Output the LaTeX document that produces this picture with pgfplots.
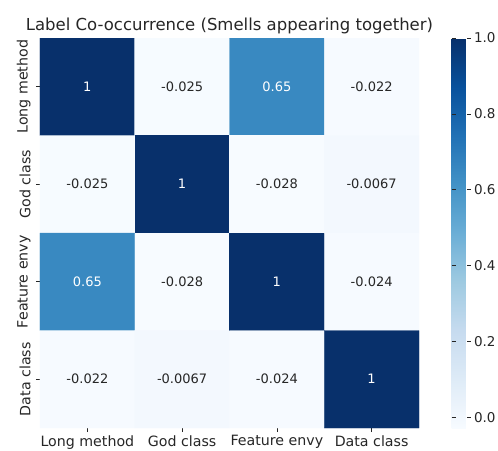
\documentclass[border=0pt]{standalone}
\usepackage{pgfplots}
\pgfplotsset{compat=1.18}
\usepackage{fontspec}
\setmainfont{DejaVu Sans}

\definecolor{txt}{HTML}{262626}

% correlation of smell labels, row-wise (x = column, y = row)
\pgfplotstableread{
x y c
0 0 1
1 0 -0.025
2 0 0.65
3 0 -0.022
0 1 -0.025
1 1 1
2 1 -0.028
3 1 -0.0067
0 2 0.65
1 2 -0.028
2 2 1
3 2 -0.024
0 3 -0.022
1 3 -0.0067
2 3 -0.024
3 3 1
}\corr

% cells whose labels sit on dark fill
\pgfplotstableread{
x y c
0 0 1
2 0 0.65
1 1 1
0 2 0.65
2 2 1
3 3 1
}\corrdark

% cells whose labels sit on light fill
\pgfplotstableread{
x y c
1 0 -0.025
3 0 -0.022
0 1 -0.025
2 1 -0.028
3 1 -0.0067
1 2 -0.028
3 2 -0.024
0 3 -0.022
1 3 -0.0067
2 3 -0.024
}\corrlight

\begin{document}
\begin{tikzpicture}
\useasboundingbox (-40pt,-22pt) rectangle (458pt,428pt);
\begin{axis}[
  scale only axis,
  width=379pt, height=390pt,
  xmin=-0.5, xmax=3.5, ymin=-0.5, ymax=3.5,
  y dir=reverse,
  axis line style={draw=none},
  xtick={0,1,2,3}, ytick={0,1,2,3},
  xticklabels={Long method, God class, Feature envy, Data class},
  yticklabels={Long method, God class, Feature envy, Data class},
  xtick pos=bottom, ytick pos=left,
  tick align=outside,
  major tick length=4pt,
  tick style={txt, line width=0.6pt},
  ticklabel style={font=\fontsize{14.2}{17}\selectfont, text=txt},
  yticklabel style={rotate=90, anchor=south, yshift=2pt},
  x tick label style={yshift=0pt},
  title={Label Co-occurrence (Smells appearing together)},
  title style={font=\fontsize{16.5}{19}\selectfont, text=txt, yshift=-5pt},
  colormap={blues}{rgb255=(247,251,255) rgb255=(222,235,247) rgb255=(198,219,239) rgb255=(158,202,225) rgb255=(107,174,214) rgb255=(66,146,198) rgb255=(33,113,181) rgb255=(8,81,156) rgb255=(8,48,107)},
  point meta min=-0.028, point meta max=1,
  colorbar,
  colorbar style={
    at={(parent axis.north east)}, anchor=north west, xshift=24pt,
    width=19pt,
    axis line style={draw=none},
    ytick={0,0.2,0.4,0.6,0.8,1.0},
    yticklabel style={font=\fontsize{13.5}{16}\selectfont, text=txt,
      /pgf/number format/.cd, fixed, fixed zerofill, precision=1,
      assume math mode=true},
    major tick length=4pt,
    tick style={txt, line width=0.6pt},
  },
  /pgf/number format/assume math mode=true,
]
\addplot[matrix plot*, mesh/cols=4, point meta=explicit] table[meta=c] {\corr};
\addplot[only marks, mark=none, point meta=explicit,
  nodes near coords={\pgfmathprintnumber[fixed, precision=4, assume math mode=true]{\pgfplotspointmeta}},
  nodes near coords style={anchor=center, text=white, font=\fontsize{13}{15}\selectfont}]
  table[meta=c] {\corrdark};
\addplot[only marks, mark=none, point meta=explicit,
  nodes near coords={\pgfmathprintnumber[fixed, precision=4, assume math mode=true]{\pgfplotspointmeta}},
  nodes near coords style={anchor=center, text=txt, font=\fontsize{13}{15}\selectfont}]
  table[meta=c] {\corrlight};
\end{axis}
\end{tikzpicture}
\end{document}
